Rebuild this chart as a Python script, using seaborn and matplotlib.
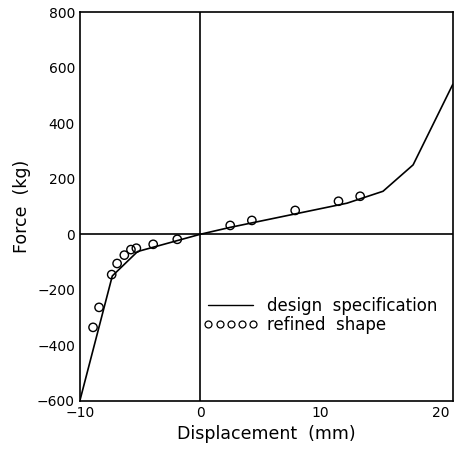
import matplotlib
matplotlib.use("Agg")
import matplotlib.pyplot as plt
import seaborn as sns
import pandas as pd
from matplotlib.lines import Line2D
from matplotlib.legend_handler import HandlerLine2D

# design specification curve
spec_x = [-10, -7.3, -5.2, 0, 2.5, 12.2, 15.2, 17.7, 21]
spec_y = [-600, -150, -62, 0, 25, 112, 155, 250, 540]

# refined shape points
ref_x = [-8.9, -8.4, -7.35, -6.9, -6.3, -5.75, -5.3, -3.9, -1.9, 2.5, 4.3, 7.9, 11.5, 13.3]
ref_y = [-335, -263, -145, -105, -75, -55, -50, -36, -18, 32, 50, 86, 119, 137]

xticks = [-10, 0, 10, 20]
yticks = [-600, -400, -200, 0, 200, 400, 600, 800]

sns.set_style("white")
plt.rcParams['font.family'] = ['DejaVu Sans']
plt.rcParams['text.color'] = 'black'
plt.rcParams['axes.labelcolor'] = 'black'

fig = plt.figure(figsize=(4.56, 4.49), dpi=100)
ax = fig.add_axes([0.175, 0.107, 0.818, 0.866])

spec = pd.DataFrame({"x": spec_x, "y": spec_y})
ref = pd.DataFrame({"x": ref_x, "y": ref_y})

ax.axhline(0, color="black", lw=1.2, zorder=1)
ax.axvline(0, color="black", lw=1.2, zorder=1)

sns.lineplot(data=spec, x="x", y="y", ax=ax, color="black", lw=1.2, sort=False, zorder=3)
sns.scatterplot(data=ref, x="x", y="y", ax=ax, marker="o", s=36,
                facecolor="none", edgecolor="black", linewidth=1.0, zorder=4)

ax.set_xlim(-10, 21)
ax.set_ylim(-600, 800)
ax.set_xticks(xticks)
ax.set_yticks(yticks)
ax.tick_params(direction="in", length=5, width=1, labelsize=10, colors="black")
for s in ax.spines.values():
    s.set_color("black")
    s.set_linewidth(1.2)

ax.set_xlabel("Displacement  (mm)", fontsize=12.5, labelpad=4)
ax.set_ylabel("Force  (kg)", fontsize=12.5)

handles = [Line2D([], [], color="black", lw=1.0),
           Line2D([], [], color="black", lw=0, marker="o", markersize=5,
                  markerfacecolor="none", markeredgewidth=0.9)]
ax.legend(handles, ["design  specification", "refined  shape"], loc="center left",
          bbox_to_anchor=(0.34, 0.22), frameon=False, numpoints=5, handlelength=2.9,
          handletextpad=0.7, fontsize=12, labelspacing=0.05, borderaxespad=0,
          borderpad=0, handler_map={Line2D: HandlerLine2D(marker_pad=0.1)})

fig.savefig("out.png", dpi=100)
